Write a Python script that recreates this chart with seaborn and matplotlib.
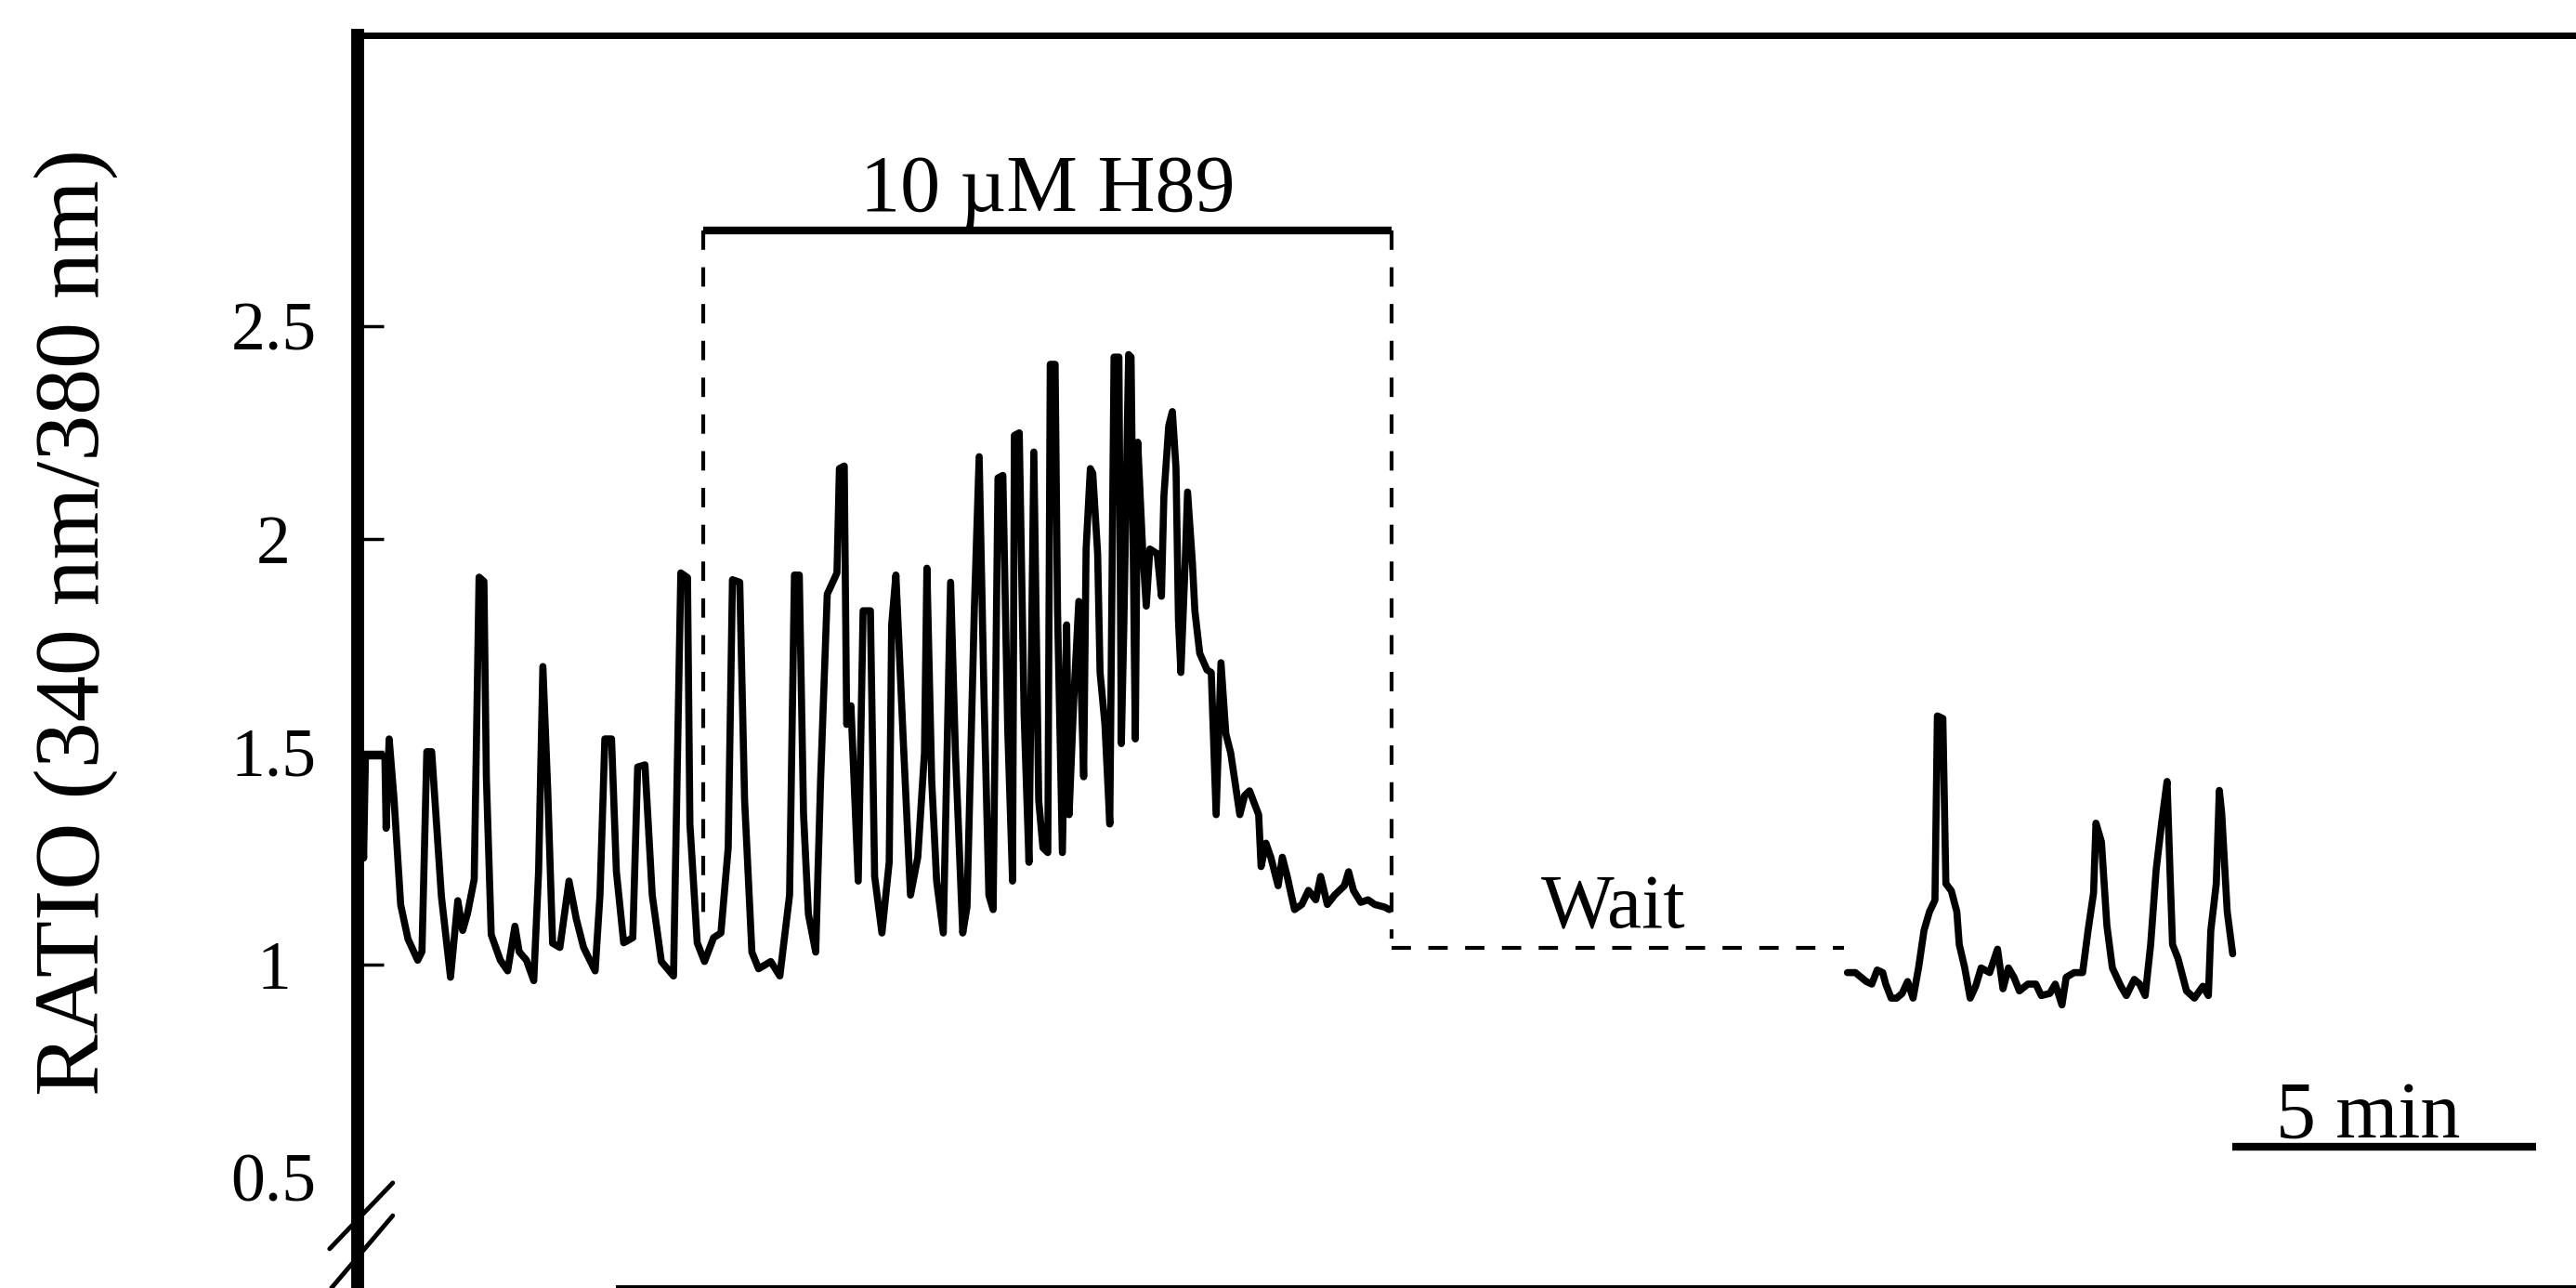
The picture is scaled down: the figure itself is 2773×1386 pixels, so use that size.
import matplotlib
matplotlib.use('Agg')
import matplotlib.pyplot as plt
import pandas as pd
import seaborn as sns

# fura-2 ratio trace, baseline + 10 uM H89 (time in min)
time_h89 = [0.00, 0.05, 0.10, 0.13, 0.45, 0.47, 0.52, 0.60, 0.71, 0.83, 0.99, 1.06, 1.14, 1.22, 1.30,
            1.38, 1.53, 1.65, 1.73, 1.81, 1.92, 2.00, 2.08, 2.12, 2.20, 2.35, 2.47, 2.59, 2.66, 2.78,
            2.90, 2.98, 3.05, 3.13, 3.21, 3.33, 3.48, 3.60, 3.72, 3.91, 3.99, 4.07, 4.18, 4.26, 4.38,
            4.53, 4.61, 4.73, 4.85, 5.00, 5.20, 5.32, 5.43, 5.47, 5.59, 5.71, 5.86, 5.98, 6.10, 6.17,
            6.29, 6.37, 6.49, 6.60, 6.80, 6.95, 7.11, 7.19, 7.27, 7.34, 7.42, 7.54, 7.62, 7.73, 7.89,
            7.93, 8.01, 8.05, 8.12, 8.24, 8.32, 8.44, 8.51, 8.63, 8.75, 8.79, 8.86, 8.98, 9.10, 9.22,
            9.33, 9.37, 9.45, 9.53, 9.64, 9.76, 9.84, 9.96, 10.03, 10.15, 10.23, 10.31, 10.39, 10.46,
            10.54, 10.62, 10.70, 10.78, 10.81, 10.89, 10.97, 11.05, 11.13, 11.21, 11.28, 11.36, 11.40,
            11.48, 11.52, 11.60, 11.67, 11.71, 11.79, 11.87, 11.95, 11.99, 12.06, 12.10, 12.18, 12.22,
            12.30, 12.38, 12.45, 12.53, 12.57, 12.61, 12.69, 12.73, 12.80, 12.84, 12.92, 12.98, 13.04,
            13.16, 13.23, 13.27, 13.35, 13.41, 13.47, 13.51, 13.55, 13.62, 13.66, 13.74, 13.78, 13.86,
            13.98, 14.05, 14.13, 14.21, 14.29, 14.37, 14.44, 14.52, 14.60, 14.68, 14.83, 14.87, 14.95,
            15.03, 15.15, 15.22, 15.30, 15.42, 15.54, 15.65, 15.77, 15.85, 15.96, 16.08, 16.24, 16.31,
            16.39, 16.51, 16.63, 16.74, 16.90, 16.98]
ratio_h89 = [1.30, 1.42, 1.25, 1.49, 1.49, 1.32, 1.53, 1.39, 1.14, 1.06, 1.01, 1.03, 1.50, 1.50, 1.33,
             1.16, 0.97, 1.15, 1.08, 1.12, 1.20, 1.91, 1.90, 1.44, 1.07, 1.01, 0.985, 1.09, 1.03, 1.01,
             0.962, 1.22, 1.70, 1.41, 1.05, 1.04, 1.196, 1.107, 1.04, 0.985, 1.163, 1.53, 1.53, 1.218, 1.051,
             1.063, 1.464, 1.469, 1.163, 1.007, 0.973, 1.92, 1.909, 1.33, 1.051, 1.007, 1.063, 1.074, 1.274, 1.904,
             1.898, 1.386, 1.029, 0.990, 1.007, 0.973, 1.163, 1.915, 1.915, 1.352, 1.118, 1.029, 1.43, 1.87, 1.92,
             2.165, 2.171, 1.564, 1.608, 1.196, 1.831, 1.831, 1.207, 1.074, 1.241, 1.798, 1.915, 1.53, 1.163, 1.252,
             1.497, 1.931, 1.43, 1.196, 1.074, 1.898, 1.497, 1.074, 1.135, 1.831, 2.193, 1.631, 1.163, 1.129,
             2.143, 2.149, 1.553, 1.196, 2.243, 2.249, 1.586, 1.24, 2.204, 1.386, 1.274, 1.263, 2.410,
             2.410, 1.831, 1.263, 1.798, 1.352, 1.631, 1.853, 1.441, 1.976, 2.165, 2.154, 1.965, 1.686,
             1.564, 1.330, 2.427, 2.427, 1.519, 1.787, 2.433, 2.427, 1.530, 2.227, 1.976, 1.842, 1.976,
             1.965, 1.865, 2.099, 2.266, 2.299, 2.165, 1.809, 1.686, 1.943, 2.110, 1.943, 1.831, 1.731,
             1.692, 1.686, 1.352, 1.709, 1.542, 1.497, 1.430, 1.352, 1.397, 1.408, 1.352, 1.230, 1.285,
             1.252, 1.185, 1.252, 1.207, 1.129, 1.141, 1.174, 1.152, 1.207, 1.141, 1.163, 1.185, 1.218,
             1.174, 1.146, 1.152, 1.141, 1.135, 1.129]

# trace after the wait
time_wash = [24.52, 24.65, 24.83, 24.92, 25.01, 25.10, 25.15, 25.24, 25.33, 25.42, 25.51, 25.60, 25.69,
             25.78, 25.87, 25.96, 26.00, 26.09, 26.14, 26.23, 26.32, 26.36, 26.45, 26.54, 26.63, 26.72,
             26.86, 26.99, 27.08, 27.17, 27.26, 27.35, 27.49, 27.62, 27.71, 27.85, 27.94, 28.05, 28.12,
             28.25, 28.39, 28.48, 28.57, 28.61, 28.70, 28.79, 28.88, 29.02, 29.11, 29.24, 29.33, 29.42,
             29.51, 29.60, 29.69, 29.78, 29.83, 29.87, 29.96, 30.10, 30.23, 30.37, 30.46, 30.50, 30.59,
             30.64, 30.68, 30.77, 30.86]
ratio_wash = [0.981, 0.981, 0.960, 0.954, 0.987, 0.981, 0.954, 0.921, 0.921, 0.932, 0.960, 0.921, 0.992,
              1.080, 1.124, 1.151, 1.584, 1.578, 1.190, 1.173, 1.124, 1.047, 0.992, 0.921, 0.949, 0.992,
              0.981, 1.036, 0.943, 0.992, 0.970, 0.938, 0.954, 0.954, 0.927, 0.932, 0.954, 0.905, 0.970,
              0.981, 0.981, 1.080, 1.168, 1.332, 1.288, 1.091, 0.992, 0.949, 0.927, 0.965, 0.954, 0.927,
              1.047, 1.222, 1.332, 1.430, 1.211, 1.047, 1.014, 0.938, 0.921, 0.949, 0.927, 1.080, 1.190,
              1.409, 1.354, 1.124, 1.025]

y_ticks = [0.5, 1, 1.5, 2, 2.5]
y_tick_labels = ['0.5', '1', '1.5', '2', '2.5']

# application bracket and wait period
h89_start, h89_end, h89_level = 5.69, 17.02, 2.725
h89_left_low, h89_right_low = 1.11, 1.06
wait_end, wait_level = 24.46, 1.04
scale_start, scale_end, scale_level = 30.86, 35.86, 0.572

df_h89 = pd.DataFrame({'time': time_h89, 'ratio': ratio_h89})
df_wash = pd.DataFrame({'time': time_wash, 'ratio': ratio_wash})

sns.set_theme(style='white')
plt.rcParams['font.family'] = ['Liberation Serif', 'DejaVu Serif']
plt.rcParams['text.color'] = 'black'

fig = plt.figure(figsize=(27.73, 13.86), dpi=100)
ax = fig.add_axes([0.1388, 0.0, 0.8612, 0.9726])

sns.lineplot(data=df_h89, x='time', y='ratio', ax=ax, color='black', lw=5.5,
             sort=False, estimator=None)
sns.lineplot(data=df_wash, x='time', y='ratio', ax=ax, color='black', lw=5.5,
             sort=False, estimator=None)

dash = (0, (5, 4.5))
ax.plot([h89_start, h89_end], [h89_level, h89_level], color='black', lw=6, solid_capstyle='butt')
ax.plot([h89_start, h89_start], [h89_level, h89_left_low], color='black', lw=3, linestyle=dash)
ax.plot([h89_end, h89_end], [h89_level, h89_right_low], color='black', lw=3, linestyle=dash)
ax.plot([h89_end, wait_end], [wait_level, wait_level], color='black', lw=3, linestyle=dash)
ax.text((h89_start + h89_end) / 2, h89_level + 0.045, '10 µM H89', ha='center', va='baseline',
        fontsize=62)
ax.text(20.67, 1.085, 'Wait', ha='center', va='baseline', fontsize=60)

# 5 min scale bar
ax.plot([scale_start, scale_end], [scale_level, scale_level], color='black', lw=6,
        solid_capstyle='butt')
ax.text(33.09, 0.594, '5 min', ha='center', va='baseline', fontsize=62)

# axis break marks
ax.plot([-0.46, 0.58], [0.332, 0.487], color='black', lw=3.5, clip_on=False)
ax.plot([-0.43, 0.58], [0.24, 0.41], color='black', lw=3.5, clip_on=False)

ax.set_xlim(0, 36.51)
ax.set_ylim(0.240, 3.183)
ax.set_xticks([])
ax.set_yticks(y_ticks, y_tick_labels)
ax.set_xlabel('')
ax.set_ylabel('')
ax.tick_params(axis='y', direction='in', left=True, length=20, width=2.5, pad=65,
               labelsize=53, colors='black')
for lbl in ax.get_yticklabels():
    lbl.set_ha('center')
ax.yaxis.get_major_ticks()[0].tick1line.set_visible(False)

ax.spines['right'].set_visible(False)
for side, w in [('top', 5), ('left', 10), ('bottom', 5)]:
    ax.spines[side].set_color('black')
    ax.spines[side].set_linewidth(w)
ax.spines['bottom'].set_bounds(4.3, 36.51)

fig.text(0.0296, 0.517, 'RATIO (340 nm/380 nm)', rotation=90, ha='center', va='center',
         fontsize=72)

fig.savefig('out.png', dpi=100)
